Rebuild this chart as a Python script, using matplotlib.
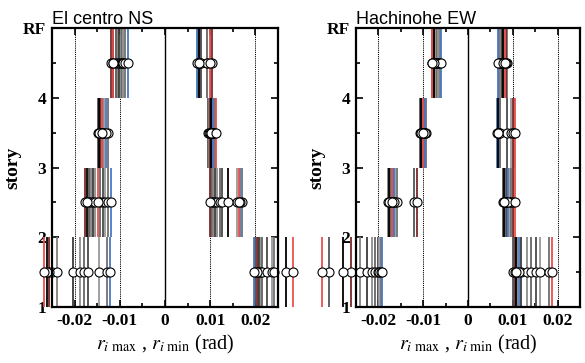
import matplotlib
matplotlib.use("Agg")
import matplotlib.pyplot as plt
from matplotlib.ticker import MultipleLocator, FixedLocator

# ---------------- data ----------------
titles = ["El centro NS", "Hachinohe EW"]
stories = [1, 2, 3, 4]
ytick_labels = ["1", "2", "3", "4", "RF"]
xtick_values = [-0.02, -0.01, 0, 0.01, 0.02]
xtick_labels = ["-0.02", "-0.01", "0", "0.01", "0.02"]

# case order: red, black, blue, dark red, 8 gray cases
case_colors = ["#e8504f", "#000000", "#4a78c0", "#7a2a2a",
               "#555555", "#808080", "#3a3a3a", "#8c8c8c",
               "#666666", "#4a4a4a", "#999999", "#707070"]

# El centro NS : r_min (negative) and r_max (positive) per story, per case
elc_rmin = {
    1: [-0.0268, -0.0262, -0.0121, -0.0256, -0.0251, -0.0238, -0.0203, -0.0188, -0.0180, -0.0170, -0.0146, -0.0128],
    2: [-0.0149, -0.0173, -0.0119, -0.0177, -0.0168, -0.0163, -0.0159, -0.0154, -0.0144, -0.0138, -0.0133, -0.0127],
    3: [-0.0139, -0.0145, -0.0131, -0.0143, -0.0149, -0.0147, -0.0141, -0.0140, -0.0138, -0.0137, -0.0135, -0.0127],
    4: [-0.0116, -0.0114, -0.0082, -0.0119, -0.0109, -0.0104, -0.0101, -0.0098, -0.0096, -0.0094, -0.0092, -0.0089],
}
elc_rmax = {
    1: [0.0284, 0.0268, 0.0197, 0.0203, 0.0200, 0.0206, 0.0209, 0.0212, 0.0215, 0.0225, 0.0236, 0.0242],
    2: [0.0163, 0.0140, 0.0166, 0.0100, 0.0103, 0.0107, 0.0111, 0.0116, 0.0121, 0.0127, 0.0160, 0.0170],
    3: [0.0112, 0.0101, 0.0106, 0.0100, 0.0095, 0.0098, 0.0102, 0.0103, 0.0104, 0.0105, 0.0108, 0.0110],
    4: [0.0099, 0.0075, 0.0070, 0.0105, 0.0072, 0.0073, 0.0074, 0.0076, 0.0077, 0.0079, 0.0092, 0.0094],
}
# Hachinohe EW
hac_rmin = {
    1: [-0.0327, -0.0279, -0.0192, -0.0262, -0.0311, -0.0240, -0.0225, -0.0214, -0.0207, -0.0202, -0.0198, -0.0195],
    2: [-0.0170, -0.0176, -0.0166, -0.0114, -0.0121, -0.0178, -0.0175, -0.0174, -0.0172, -0.0168, -0.0163, -0.0159],
    3: [-0.0101, -0.0105, -0.0095, -0.0099, -0.0107, -0.0104, -0.0103, -0.0102, -0.0100, -0.0098, -0.0097, -0.0093],
    4: [-0.0081, -0.0076, -0.0061, -0.0079, -0.0080, -0.0078, -0.0075, -0.0072, -0.0070, -0.0068, -0.0066, -0.0063],
}
hac_rmax = {
    1: [0.0188, 0.0107, 0.0114, 0.0104, 0.0100, 0.0110, 0.0118, 0.0132, 0.0141, 0.0151, 0.0160, 0.0181],
    2: [0.0106, 0.0080, 0.0090, 0.0101, 0.0079, 0.0081, 0.0082, 0.0083, 0.0084, 0.0086, 0.0093, 0.0097],
    3: [0.0106, 0.0068, 0.0064, 0.0100, 0.0066, 0.0067, 0.0069, 0.0070, 0.0071, 0.0086, 0.0097, 0.0102],
    4: [0.0083, 0.0078, 0.0067, 0.0085, 0.0069, 0.0071, 0.0073, 0.0074, 0.0076, 0.0077, 0.0080, 0.0087],
}
panels = [(elc_rmin, elc_rmax), (hac_rmin, hac_rmax)]

# ---------------- style ----------------
plt.rcParams["mathtext.fontset"] = "stix"
serif = "Liberation Serif"
sans = "Liberation Sans"

fig = plt.figure(figsize=(5.85, 3.63), dpi=100)
axes_rects = [[52 / 585, 56 / 363, 226 / 585, 279 / 363],
              [356 / 585, 56 / 363, 224 / 585, 279 / 363]]

# drawing order: grays first, then coloured cases on top
draw_order = list(range(4, 12)) + [3, 2, 1, 0]

for p, (rmin, rmax) in enumerate(panels):
    ax = fig.add_axes(axes_rects[p])
    ax.set_xlim(-0.025, 0.025)
    ax.set_ylim(1, 5)
    for xv in (-0.02, -0.01, 0.01, 0.02):
        ax.axvline(xv, color="black", lw=0.7, ls=(0, (1.2, 1.0)), zorder=1)
    ax.axvline(0, color="black", lw=1.0, zorder=1)

    for c in draw_order:
        for s in stories:
            for vals in (rmin, rmax):
                v = vals[s][c]
                ax.plot([v, v], [s, s + 1], color=case_colors[c], lw=1.3,
                        solid_capstyle="butt", clip_on=False, zorder=2)
    for c in draw_order:
        for s in stories:
            for vals in (rmin, rmax):
                v = vals[s][c]
                ax.plot([v], [s + 0.5], marker="o", ms=6.5, mfc="white",
                        mec="black", mew=0.8, ls="none", clip_on=False, zorder=5)

    ax.xaxis.set_major_locator(FixedLocator(xtick_values))
    ax.set_xticklabels(xtick_labels)
    ax.xaxis.set_minor_locator(MultipleLocator(0.005))
    ax.yaxis.set_major_locator(FixedLocator([1, 2, 3, 4, 5]))
    ax.set_yticklabels(ytick_labels)
    ax.yaxis.set_minor_locator(MultipleLocator(0.5))
    ax.tick_params(which="both", direction="in", top=True, right=True,
                   width=1.2)
    ax.tick_params(which="major", length=5, pad=4)
    ax.tick_params(which="minor", length=3)
    for lab in ax.get_xticklabels() + ax.get_yticklabels():
        lab.set_fontfamily(serif)
        lab.set_fontweight("bold")
        lab.set_fontsize(12.5)
    for sp in ax.spines.values():
        sp.set_linewidth(1.6)
        sp.set_zorder(6)

    ax.set_ylabel("story", fontfamily=serif, fontweight="bold", fontsize=14,
                  labelpad=1)
    ax.set_xlabel(r"$r_{i\ \mathrm{max}}$ , $r_{i\ \mathrm{min}}$ (rad)",
                  fontfamily=serif, fontsize=14.5, labelpad=3)
    ax.set_title(titles[p], loc="left", fontfamily=sans, fontsize=13, pad=1)

fig.savefig("out.png", dpi=100)
